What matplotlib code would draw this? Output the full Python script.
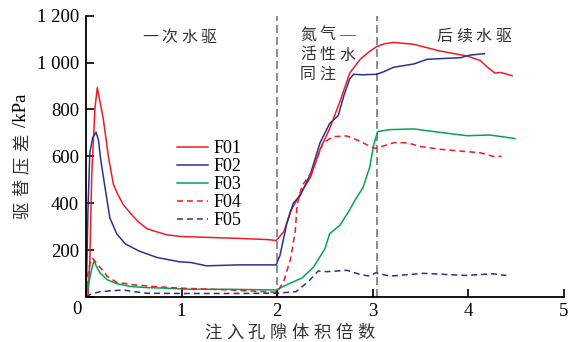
import numpy as np
import matplotlib
matplotlib.use('Agg')
import matplotlib.pyplot as plt

plt.rcParams['font.family'] = ['Liberation Serif', 'Noto Sans CJK SC']

# data (x = injected pore volumes, y = pressure diff kPa)
f01_x = [0, 0.02, 0.04, 0.06, 0.094, 0.118, 0.147, 0.18, 0.2, 0.234, 0.286, 0.33, 0.39, 0.47,
         0.55, 0.64, 0.74, 0.85, 1.0, 1.3, 1.6, 1.9, 1.99, 2.07, 2.14, 2.24, 2.35, 2.45, 2.55,
         2.66, 2.76, 2.87, 2.96, 3.04, 3.12, 3.22, 3.43, 3.71, 3.99, 4.13, 4.2, 4.28, 4.34, 4.46]
f01_y = [0, 0, 150, 520, 806, 893, 832, 762, 703, 600, 482, 440, 394, 355,
         320, 291, 278, 265, 258, 254, 250, 245, 241, 278, 365, 438, 511, 630, 718,
         836, 955, 1014, 1045, 1068, 1080, 1086, 1078, 1049, 1028, 1008, 981, 955, 958, 944]

f02_x = [0, 0.01, 0.02, 0.04, 0.07, 0.105, 0.13, 0.154, 0.2, 0.25, 0.32, 0.41, 0.55, 0.74,
         0.98, 1.1, 1.26, 1.6, 1.99, 2.03, 2.1, 2.17, 2.24, 2.35, 2.45, 2.55, 2.64, 2.7,
         2.76, 2.8, 2.9, 3.04, 3.11, 3.22, 3.43, 3.57, 3.92, 4.02, 4.17]
f02_y = [0, 150, 365, 615, 680, 703, 670, 586, 465, 337, 271, 227, 197, 169,
         150, 147, 133, 137, 137, 177, 310, 401, 431, 526, 658, 740, 774, 860,
         930, 950, 948, 950, 960, 980, 994, 1014, 1021, 1032, 1038]

f03_x = [0, 0.03, 0.06, 0.084, 0.11, 0.147, 0.22, 0.32, 0.46, 0.64, 0.81, 1.09, 1.5, 1.99,
         2.1, 2.26, 2.38, 2.5, 2.55, 2.66, 2.76, 2.82, 2.9, 2.97, 3.01, 3.05, 3.06, 3.18,
         3.43, 3.71, 3.99, 4.23, 4.49]
f03_y = [0, 60, 120, 155, 130, 103, 74, 57, 45, 40, 38, 33, 33, 30,
         52, 81, 127, 205, 270, 307, 372, 416, 467, 555, 646, 703, 706, 714,
         717, 702, 688, 691, 676]

f04_x = [0, 0.02, 0.05, 0.07, 0.12, 0.18, 0.22, 0.32, 0.5, 0.7, 0.98, 1.5, 2.0, 2.07, 2.14,
         2.19, 2.21, 2.26, 2.35, 2.4, 2.48, 2.59, 2.73, 2.87, 3.01, 3.04, 3.22, 3.36, 3.5,
         3.71, 3.99, 4.13, 4.26, 4.35]
f04_y = [0, 100, 160, 165, 140, 111, 89, 63, 52, 45, 38, 30, 20, 67, 161,
         278, 394, 474, 526, 570, 658, 684, 687, 664, 635, 635, 658, 658, 642,
         630, 620, 615, 600, 600]

f05_x = [0, 0.05, 0.147, 0.39, 0.5, 0.64, 1.0, 1.5, 2.0, 2.2, 2.33, 2.43, 2.52, 2.73, 2.87,
         2.97, 3.03, 3.18, 3.53, 3.97, 4.26, 4.4]
f05_y = [0, 12, 23, 30, 23, 16, 15, 15, 16, 23, 67, 111, 108, 114, 96,
         89, 103, 89, 101, 92, 99, 92]

series = [
    ('F01', f01_x, f01_y, '#ed1c24', '-'),
    ('F02', f02_x, f02_y, '#2e3192', '-'),
    ('F03', f03_x, f03_y, '#00a651', '-'),
    ('F04', f04_x, f04_y, '#ed1c24', (0, (3.9, 2.6))),
    ('F05', f05_x, f05_y, '#2e3192', (0, (3.9, 2.6))),
]

x_ticks = [0, 1, 2, 3, 4, 5]
x_labels = ['', '1', '2', '3', '4', '5']
y_ticks = [0, 200, 400, 600, 800, 1000, 1200]
y_labels = ['', '200', '400', '600', '800', '1\u00a0000', '1\u00a0200']
stage_bounds = [2, 3.05]

W, H = 569, 342
fig = plt.figure(figsize=(W / 100, H / 100), dpi=100)
ax = fig.add_axes([86 / W, 45 / H, 477.7 / W, 281.3 / H])

for name, xs, ys, col, ls in series:
    ax.plot(xs, ys, color=col, lw=1.1, linestyle=ls, label=name)

for b in stage_bounds:
    ax.axvline(b, color='#7a7a7a', lw=1.2, linestyle=(0, (4.8, 2.4)), zorder=0)

ax.set_xlim(0, 5)
ax.set_ylim(0, 1200)
ax.set_xticks(x_ticks)
ax.set_xticklabels(x_labels)
ax.set_yticks(y_ticks)
ax.set_yticklabels(y_labels)
for s in ['top', 'right']:
    ax.spines[s].set_visible(False)
for s in ['left', 'bottom']:
    ax.spines[s].set_linewidth(1.3)
ax.tick_params(direction='in', length=6, width=1.2, labelsize=13.5)
ax.tick_params(axis='x', pad=4)
ax.tick_params(axis='y', pad=5)

fig.text(77 / W, 1 - 310 / H, '0', fontsize=13.5, ha='center', va='center')

leg = ax.legend(loc='upper left', bbox_to_anchor=(176.7 / W, 1 - 140 / H),
                bbox_transform=fig.transFigure, frameon=False, fontsize=13,
                handlelength=1.75, handletextpad=0.3, labelspacing=0.06,
                borderpad=0, borderaxespad=0)


def spaced(x0, y0, chars, pitch, size, vertical=False):
    # place CJK characters one by one at a fixed pitch (pixels)
    for i, c in enumerate(chars):
        if vertical:
            x, y, rot = x0, y0 - i * pitch, 90
        else:
            x, y, rot = x0 + i * pitch, y0, 0
        fam = 'Liberation Serif' if c == '—' else 'Noto Sans CJK SC'
        fig.text(x / W, 1 - y / H, c, fontsize=size, ha='center', va='center',
                 rotation=rot, family=fam, color='#333333')


spaced(150, 37, '一次水驱', 19.5, 11.5)
spaced(308, 35, '氮气—', 19.5, 11.5)
spaced(308, 55, '活性水', 19.5, 11.5)
spaced(308, 74, '同注', 19.5, 11.5)
spaced(444.75, 36, '后续水驱', 19.5, 11.5)

spaced(212.6, 333, '注入孔隙体积倍数', 21.9, 12.5)
spaced(22, 210, '驱替压差', 22.5, 12.5, vertical=True)
fig.text(22 / W, 1 - 110 / H, '/kPa', fontsize=13.5, rotation=90,
         ha='center', va='center')

fig.savefig('out.png', dpi=100)
